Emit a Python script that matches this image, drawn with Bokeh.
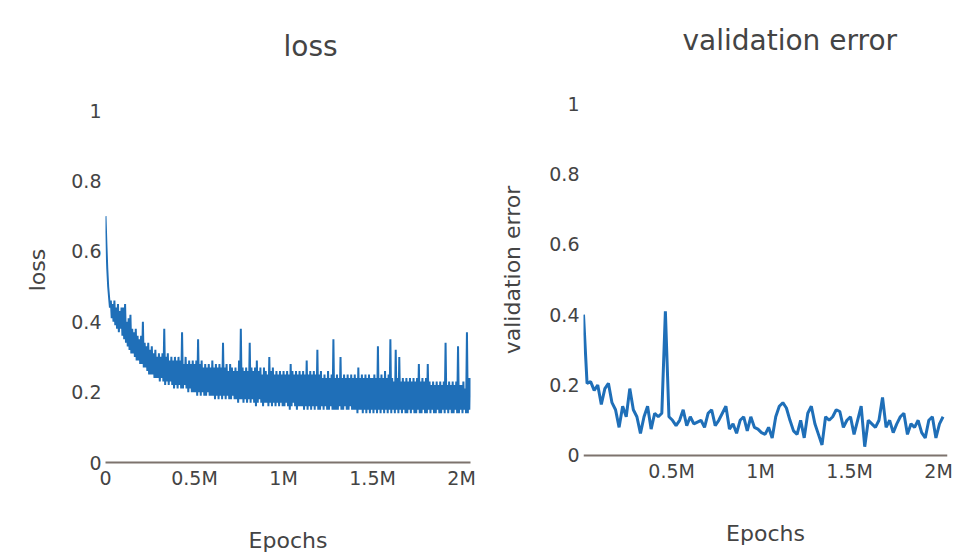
from bokeh.plotting import figure
from bokeh.layouts import row
from bokeh.models import Range1d, FixedTicker, Span
from bokeh.embed import file_html
from bokeh.resources import INLINE

# ---------------- data ----------------
# training loss, logged every 5k epochs
loss_step = 5000
loss_values = [
    0.70, 0.62, 0.55, 0.50, 0.47, 0.44, 0.46, 0.41, 0.45, 0.40, 0.46, 0.39, 0.44, 0.38, 0.45, 0.37, 0.43, 0.38, 0.44, 0.36,
    0.44, 0.35, 0.45, 0.34, 0.40, 0.33, 0.41, 0.32, 0.42, 0.31, 0.38, 0.31, 0.37, 0.30, 0.38, 0.29, 0.36, 0.29, 0.35, 0.28,
    0.36, 0.28, 0.40, 0.27, 0.34, 0.27, 0.33, 0.26, 0.34, 0.25, 0.32, 0.25, 0.33, 0.25, 0.31, 0.24, 0.32, 0.24, 0.30, 0.24,
    0.31, 0.23, 0.30, 0.24, 0.31, 0.23, 0.38, 0.22, 0.30, 0.23, 0.31, 0.22, 0.29, 0.23, 0.30, 0.22, 0.29, 0.21, 0.30, 0.22,
    0.29, 0.21, 0.30, 0.22, 0.29, 0.21, 0.37, 0.21, 0.28, 0.22, 0.30, 0.21, 0.28, 0.20, 0.29, 0.21, 0.28, 0.20, 0.29, 0.20,
    0.28, 0.20, 0.29, 0.19, 0.35, 0.20, 0.28, 0.19, 0.29, 0.20, 0.27, 0.19, 0.28, 0.19, 0.27, 0.20, 0.28, 0.19, 0.27, 0.19,
    0.29, 0.19, 0.27, 0.18, 0.28, 0.19, 0.27, 0.18, 0.28, 0.19, 0.27, 0.18, 0.34, 0.19, 0.27, 0.18, 0.28, 0.19, 0.26, 0.18,
    0.28, 0.18, 0.27, 0.19, 0.26, 0.18, 0.27, 0.18, 0.26, 0.17, 0.29, 0.18, 0.38, 0.18, 0.27, 0.17, 0.26, 0.18, 0.27, 0.17,
    0.26, 0.18, 0.34, 0.17, 0.27, 0.18, 0.26, 0.17, 0.27, 0.16, 0.29, 0.17, 0.26, 0.18, 0.27, 0.17, 0.25, 0.16, 0.27, 0.17,
    0.26, 0.17, 0.25, 0.16, 0.30, 0.17, 0.26, 0.16, 0.27, 0.17, 0.25, 0.16, 0.26, 0.17, 0.25, 0.16, 0.26, 0.17, 0.25, 0.16,
    0.26, 0.16, 0.25, 0.17, 0.26, 0.16, 0.25, 0.15, 0.28, 0.16, 0.26, 0.17, 0.25, 0.16, 0.26, 0.15, 0.25, 0.16, 0.26, 0.16,
    0.25, 0.16, 0.26, 0.15, 0.25, 0.16, 0.29, 0.15, 0.25, 0.16, 0.26, 0.15, 0.25, 0.16, 0.26, 0.15, 0.25, 0.16, 0.32, 0.15,
    0.25, 0.15, 0.26, 0.16, 0.24, 0.15, 0.25, 0.16, 0.24, 0.15, 0.26, 0.15, 0.24, 0.16, 0.25, 0.15, 0.35, 0.15, 0.24, 0.15,
    0.25, 0.15, 0.24, 0.16, 0.30, 0.15, 0.24, 0.15, 0.25, 0.16, 0.24, 0.15, 0.25, 0.15, 0.24, 0.16, 0.25, 0.15, 0.24, 0.15,
    0.25, 0.15, 0.24, 0.14, 0.27, 0.15, 0.24, 0.15, 0.25, 0.14, 0.24, 0.15, 0.25, 0.14, 0.24, 0.15, 0.25, 0.14, 0.24, 0.15,
    0.24, 0.14, 0.25, 0.15, 0.24, 0.14, 0.33, 0.15, 0.24, 0.14, 0.25, 0.15, 0.24, 0.14, 0.26, 0.15, 0.24, 0.14, 0.25, 0.15,
    0.35, 0.14, 0.24, 0.15, 0.23, 0.14, 0.32, 0.15, 0.24, 0.14, 0.30, 0.15, 0.23, 0.14, 0.24, 0.15, 0.23, 0.14, 0.24, 0.14,
    0.23, 0.15, 0.24, 0.14, 0.23, 0.15, 0.24, 0.14, 0.23, 0.14, 0.24, 0.15, 0.28, 0.14, 0.23, 0.14, 0.24, 0.15, 0.23, 0.14,
    0.24, 0.14, 0.28, 0.15, 0.23, 0.14, 0.22, 0.15, 0.23, 0.14, 0.22, 0.14, 0.23, 0.15, 0.22, 0.14, 0.23, 0.14, 0.22, 0.15,
    0.23, 0.14, 0.34, 0.15, 0.22, 0.14, 0.23, 0.15, 0.22, 0.14, 0.23, 0.14, 0.22, 0.15, 0.23, 0.14, 0.33, 0.14, 0.22, 0.15,
    0.22, 0.14, 0.23, 0.15, 0.21, 0.14, 0.37, 0.14, 0.24, 0.15, 0.24,
]
loss_epochs = [i * loss_step for i in range(len(loss_values))]

# validation error, evaluated every 20k epochs starting at 5k
val_start = 5000
val_step = 20000
val_values = [
    0.40, 0.205, 0.21, 0.185, 0.20, 0.145, 0.19, 0.205, 0.15, 0.13,
    0.08, 0.14, 0.11, 0.19, 0.13, 0.11, 0.063, 0.11, 0.14, 0.075,
    0.12, 0.11, 0.12, 0.41, 0.11, 0.10, 0.085, 0.10, 0.13, 0.085,
    0.11, 0.09, 0.095, 0.10, 0.08, 0.12, 0.13, 0.085, 0.10, 0.12,
    0.14, 0.075, 0.09, 0.063, 0.10, 0.11, 0.07, 0.11, 0.08, 0.075,
    0.065, 0.06, 0.08, 0.05, 0.11, 0.14, 0.15, 0.135, 0.10, 0.07,
    0.06, 0.10, 0.05, 0.12, 0.14, 0.09, 0.06, 0.03, 0.11, 0.10,
    0.11, 0.13, 0.125, 0.08, 0.10, 0.11, 0.06, 0.10, 0.14, 0.025,
    0.10, 0.09, 0.08, 0.10, 0.165, 0.08, 0.10, 0.065, 0.09, 0.11,
    0.12, 0.06, 0.09, 0.08, 0.10, 0.065, 0.05, 0.10, 0.11, 0.05,
    0.09, 0.11,
]
val_epochs = [val_start + i * val_step for i in range(len(val_values))]

x_ticks = [0, 500000, 1000000, 1500000, 2000000]
x_tick_labels = ["0", "0.5M", "1M", "1.5M", "2M"]
y_ticks = [0, 0.2, 0.4, 0.6, 0.8, 1.0]
y_tick_labels = ["0", "0.2", "0.4", "0.6", "0.8", "1"]
titles = ["loss", "validation error"]

LINE = "#1f6fb8"
FONT = "DejaVu Sans"
TXT = "#444444"
ZERO = "#7d736d"


def style(p, title_offset, title_standoff, ylabel, ylabel_standoff, xlabel_standoff):
    p.title.text_font = FONT
    p.title.text_font_size = "28px"
    p.title.text_font_style = "normal"
    p.title.text_color = TXT
    p.title.align = "left"
    p.title.offset = title_offset
    p.title.standoff = title_standoff
    p.grid.visible = False
    p.outline_line_color = None
    p.background_fill_color = "white"
    p.border_fill_color = "white"

    xa = p.xaxis[0]
    xa.ticker = FixedTicker(ticks=x_ticks)
    xa.major_label_overrides = {t: l for t, l in zip(x_ticks, x_tick_labels)}
    xa.axis_line_color = ZERO
    xa.axis_line_width = 2
    xa.major_tick_line_color = None
    xa.minor_tick_line_color = None
    xa.major_tick_out = 0
    xa.major_tick_in = 0
    xa.minor_tick_out = 0
    xa.major_label_standoff = xlabel_standoff
    xa.major_label_text_font = FONT
    xa.major_label_text_font_size = "19px"
    xa.major_label_text_color = TXT
    xa.axis_label = "Epochs"
    xa.axis_label_text_font = FONT
    xa.axis_label_text_font_size = "22px"
    xa.axis_label_text_font_style = "normal"
    xa.axis_label_text_color = TXT
    xa.axis_label_standoff = 36

    ya = p.yaxis[0]
    ya.ticker = FixedTicker(ticks=y_ticks)
    ya.major_label_overrides = {t: l for t, l in zip(y_ticks, y_tick_labels)}
    ya.axis_line_color = None
    ya.major_tick_line_color = None
    ya.minor_tick_line_color = None
    ya.major_tick_out = 0
    ya.major_tick_in = 0
    ya.minor_tick_out = 0
    ya.major_label_standoff = 4
    ya.major_label_text_font = FONT
    ya.major_label_text_font_size = "19px"
    ya.major_label_text_color = TXT
    ya.axis_label = ylabel
    ya.axis_label_text_font = FONT
    ya.axis_label_text_font_size = "22px"
    ya.axis_label_text_font_style = "normal"
    ya.axis_label_text_color = TXT
    ya.axis_label_standoff = ylabel_standoff


# ---- left: loss ----
p1 = figure(width=488, height=559, output_backend="svg", toolbar_location=None,
            title=titles[0],
            x_range=Range1d(0, 2.05e6), y_range=Range1d(0, 1.0938),
            min_border_left=105, min_border_right=18,
            min_border_top=77, min_border_bottom=97)
p1.line(loss_epochs, loss_values, line_color=LINE, line_width=2)
style(p1, 178, 29, "loss", 18, 4)

# ---- right: validation error ----
p2 = figure(width=465, height=559, output_backend="svg", toolbar_location=None,
            title=titles[1],
            x_range=Range1d(5000, 2.05e6), y_range=Range1d(-0.0199, 1.0739),
            min_border_left=95, min_border_right=6,
            min_border_top=77, min_border_bottom=97)
p2.line(val_epochs, val_values, line_color=LINE, line_width=3)
style(p2, 99, 41, "validation error", 21, -3)
p2.xaxis[0].axis_line_color = None
p2.add_layout(Span(location=0, dimension="width", line_color=ZERO, line_width=2))

layout = row(p1, p2)
open("out.html", "w").write(file_html(layout, INLINE))
